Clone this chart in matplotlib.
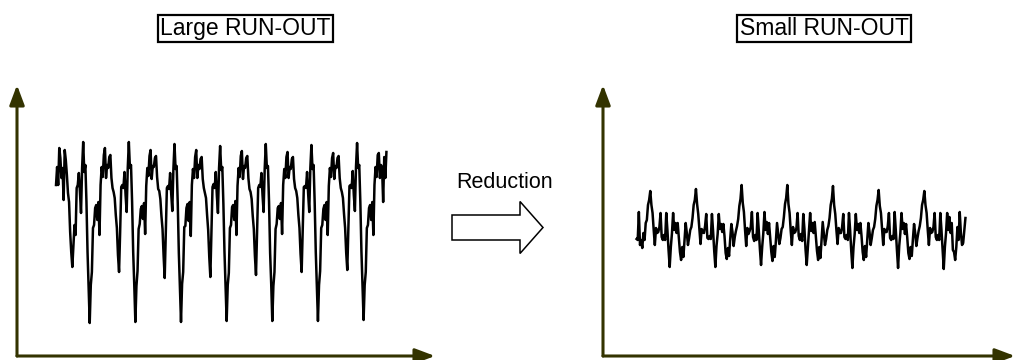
import matplotlib
matplotlib.use("Agg")
import matplotlib.pyplot as plt
import matplotlib.patches as mpatches

plt.rcParams["font.family"] = ["Liberation Sans", "DejaVu Sans"]

# left trace: large run-out, one deep dip per revolution (heights above the x axis)
left_trace = [
    171, 189, 171, 208, 198, 178, 188, 156, 206, 196, 181, 163, 154, 124, 104, 89,
    111, 131, 121, 168, 171, 183, 164, 143, 188, 214, 184, 191, 154, 104, 68,
    # rev 1
    33, 71, 84, 128, 131, 148, 151, 136, 154, 121, 171, 189, 179, 201, 208, 178,
    191, 188, 199, 201, 178, 168, 164, 158, 141, 128, 101, 84, 124, 169, 171, 168,
    184, 161, 144, 188, 214, 188, 191, 154, 104, 71,
    # rev 2
    34, 70, 85, 127, 132, 147, 150, 137, 153, 122, 170, 188, 180, 200, 206, 177,
    190, 189, 198, 200, 179, 167, 165, 157, 140, 127, 100, 78, 122, 168, 170, 167,
    183, 162, 145, 187, 212, 187, 190, 153, 103, 70,
    # rev 3
    34, 72, 84, 129, 130, 148, 152, 135, 154, 120, 171, 187, 178, 199, 206, 178,
    191, 187, 197, 199, 177, 168, 163, 158, 141, 126, 99, 79, 123, 169, 172, 168,
    184, 160, 143, 188, 210, 186, 189, 152, 104, 71,
    # rev 4
    35, 71, 83, 128, 131, 149, 151, 136, 155, 121, 170, 188, 179, 200, 205, 177,
    190, 188, 198, 200, 178, 167, 164, 157, 140, 127, 100, 81, 124, 168, 171, 169,
    183, 161, 144, 187, 212, 188, 190, 154, 103, 72,
    # rev 5
    35, 70, 84, 127, 132, 148, 150, 137, 153, 122, 171, 187, 178, 199, 204, 178,
    189, 187, 197, 199, 177, 168, 165, 158, 141, 128, 102, 84, 125, 169, 170, 168,
    184, 162, 144, 188, 211, 187, 191, 153, 104, 71,
    # rev 6
    35, 71, 85, 128, 131, 147, 151, 136, 154, 121, 170, 188, 179, 198, 203, 177,
    190, 188, 198, 200, 178, 168, 164, 158, 142, 128, 103, 86, 126, 170, 171, 168,
    185, 161, 145, 189, 213, 188, 191, 154, 105, 71,
    # rev 7 (partial)
    36, 71, 84, 128, 131, 148, 151, 136, 154, 121, 171, 189, 179, 201, 203, 178,
    191, 188, 154, 199, 178, 204,
]

# right trace: small run-out after reduction
right_trace = [
    117, 116, 144, 111, 116, 108, 123, 116, 133, 136, 151, 156,
    # rev 1
    165, 151, 143, 126, 111, 128, 123, 124, 129, 143, 119, 116, 121, 116, 143, 126,
    106, 89, 109, 123, 143, 126, 133, 123, 133, 119, 104, 96, 109, 99, 116, 133,
    123, 111, 118, 126, 129, 138, 151, 156,
    # rev 2
    167, 152, 142, 127, 112, 127, 124, 123, 130, 142, 118, 117, 120, 117, 142, 125,
    105, 89, 110, 122, 142, 127, 132, 124, 132, 120, 103, 97, 108, 100, 117, 132,
    124, 110, 119, 125, 130, 137, 150, 157,
    # rev 3
    171, 153, 144, 126, 110, 128, 122, 125, 129, 144, 119, 115, 121, 116, 143, 126,
    107, 91, 109, 123, 144, 126, 134, 122, 133, 118, 104, 95, 110, 99, 115, 133,
    122, 112, 118, 127, 129, 139, 152, 158,
    # rev 4
    171, 152, 143, 125, 111, 129, 123, 124, 128, 143, 120, 116, 122, 115, 142, 127,
    106, 91, 108, 124, 143, 125, 133, 123, 134, 119, 105, 96, 109, 98, 116, 134,
    123, 111, 117, 126, 130, 138, 151, 157,
    # rev 5
    170, 151, 142, 126, 112, 128, 123, 123, 129, 142, 119, 117, 121, 116, 143, 126,
    105, 88, 109, 122, 142, 126, 132, 123, 133, 120, 104, 96, 110, 99, 116, 133,
    124, 111, 118, 126, 129, 137, 150, 156,
    # rev 6
    166, 150, 143, 127, 111, 127, 124, 124, 130, 143, 118, 116, 120, 117, 144, 126,
    106, 88, 110, 123, 143, 127, 133, 122, 132, 119, 103, 97, 109, 100, 117, 132,
    123, 110, 118, 125, 130, 138, 151, 156,
    # rev 7 (partial)
    165, 151, 143, 126, 111, 128, 123, 124, 129, 143, 119, 116, 121, 116, 143, 126,
    106, 87, 109, 123, 143, 126, 139, 123, 133, 106, 104, 96, 109, 129, 116, 144,
    123, 111, 113, 126, 138,
]

titles = ["Large RUN-OUT", "Small RUN-OUT"]
arrow_label = "Reduction"

AXIS_COLOR = "#333300"

fig = plt.figure(figsize=(10.16, 3.6), dpi=100)

# overlay in pixel coordinates for labels and the block arrow
ax0 = fig.add_axes([0, 0, 1, 1])
ax0.set_xlim(0, 1016)
ax0.set_ylim(360, 0)
ax0.axis("off")

axL = fig.add_axes([17 / 1016, 4 / 360, 418 / 1016, 271 / 360])
axR = fig.add_axes([603 / 1016, 4 / 360, 412 / 1016, 271 / 360])

axL.plot(range(len(left_trace)), left_trace, color="black", lw=1.8)
axL.set_xlim(-35.9, 348.7)
axR.plot(range(len(right_trace)), right_trace, color="black", lw=1.8)
axR.set_xlim(-29.4, 331.4)

for ax in (axL, axR):
    ax.set_ylim(0, 271)
    ax.axis("off")
    style = "-|>,head_length=1.2,head_width=0.45"
    kw = dict(arrowstyle=style, color=AXIS_COLOR, lw=2.2, mutation_scale=10,
              shrinkA=0, shrinkB=0)
    ax.annotate("", xy=(1, 0), xytext=(0, 0), xycoords="axes fraction",
                arrowprops=kw)
    ax.annotate("", xy=(0, 1), xytext=(0, 0), xycoords="axes fraction",
                arrowprops=kw)

box = dict(boxstyle="square,pad=0.1", fc="white", ec="black", lw=1.6)
ax0.text(245.5, 28.5, titles[0], ha="center", va="center", fontsize=16.5, bbox=box)
ax0.text(824, 28.5, titles[1], ha="center", va="center", fontsize=16.5, bbox=box)

ax0.text(505, 182, arrow_label, ha="center", va="center", fontsize=15.5)
ax0.add_patch(mpatches.FancyArrow(452, 227.5, 91, 0, width=25, head_width=52,
                                  head_length=23, length_includes_head=True,
                                  fc="white", ec="black", lw=1.1))

fig.savefig("out.png", dpi=100)
